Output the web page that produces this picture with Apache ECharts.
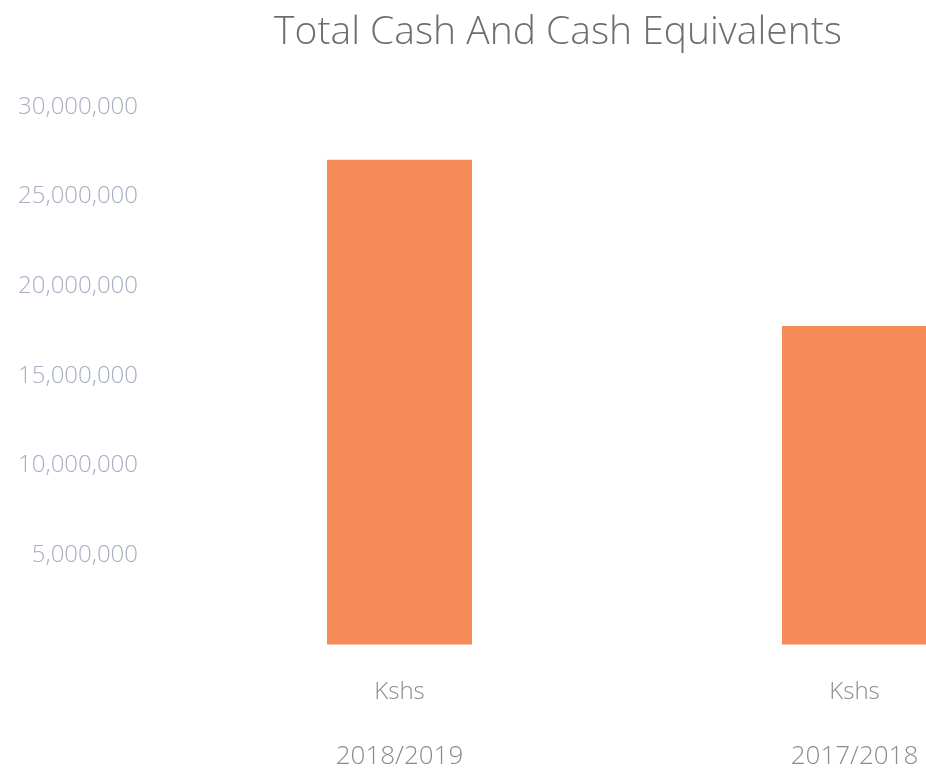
<!DOCTYPE html>
<html>
<head>
<meta charset="utf-8">
<script src="https://cdn.jsdelivr.net/npm/echarts@6/dist/echarts.min.js"></script>
<style>
html, body { margin: 0; padding: 0; background: #fff; }
#main { width: 926px; height: 780px; }
</style>
</head>
<body>
<div id="main"></div>
<script>
// data
var categories = ['2018/2019', '2017/2018'];
var unitLabel = 'Kshs';
var cashValues = [27050000, 17780000];
var yTicks = [0, 5000000, 10000000, 15000000, 20000000, 25000000, 30000000];

var myChart = echarts.init(document.getElementById('main'));

var option = {
	backgroundColor: '#fff',
	title: {
		text: 'Total Cash And Cash Equivalents',
		left: 553,
		top: 8,
		textAlign: 'center',
		textStyle: {
			fontFamily: 'Open Sans',
			fontWeight: 300,
			fontSize: 39,
			color: '#6e6e6e'
		}
	},
	grid: {
		left: 172,
		width: 910,
		top: 107,
		height: 644.6 - 107,
		containLabel: false,
		outerBoundsMode: 'none'
	},
	xAxis: {
		type: 'category',
		data: categories,
		axisLine: { show: false },
		axisTick: { show: false },
		axisLabel: {
			margin: 16,
			formatter: function (v) {
				return '{u|' + unitLabel + '}\n{y|' + v + '}';
			},
			rich: {
				u: { fontFamily: 'Open Sans', fontWeight: 300, fontSize: 24, color: '#8c8c8c', lineHeight: 64 },
				y: { fontFamily: 'Open Sans', fontWeight: 300, fontSize: 26, color: '#8c8c8c', lineHeight: 64 }
			}
		}
	},
	yAxis: {
		type: 'value',
		min: yTicks[0],
		max: yTicks[yTicks.length - 1],
		interval: yTicks[1] - yTicks[0],
		axisLine: { show: false },
		axisTick: { show: false },
		splitLine: { show: false },
		axisLabel: {
			margin: 34,
			fontFamily: 'Open Sans',
			fontWeight: 300,
			fontSize: 24,
			color: '#a7aec2',
			formatter: function (v) {
				if (v === 0) return '';
				return v.toString().replace(/\B(?=(\d{3})+(?!\d))/g, ',');
			}
		}
	},
	series: [
		{
			type: 'bar',
			data: cashValues,
			barWidth: 145,
			itemStyle: { color: '#f68b57' }
		}
	]
};
myChart.setOption(option, true);
</script>
</body>
</html>
